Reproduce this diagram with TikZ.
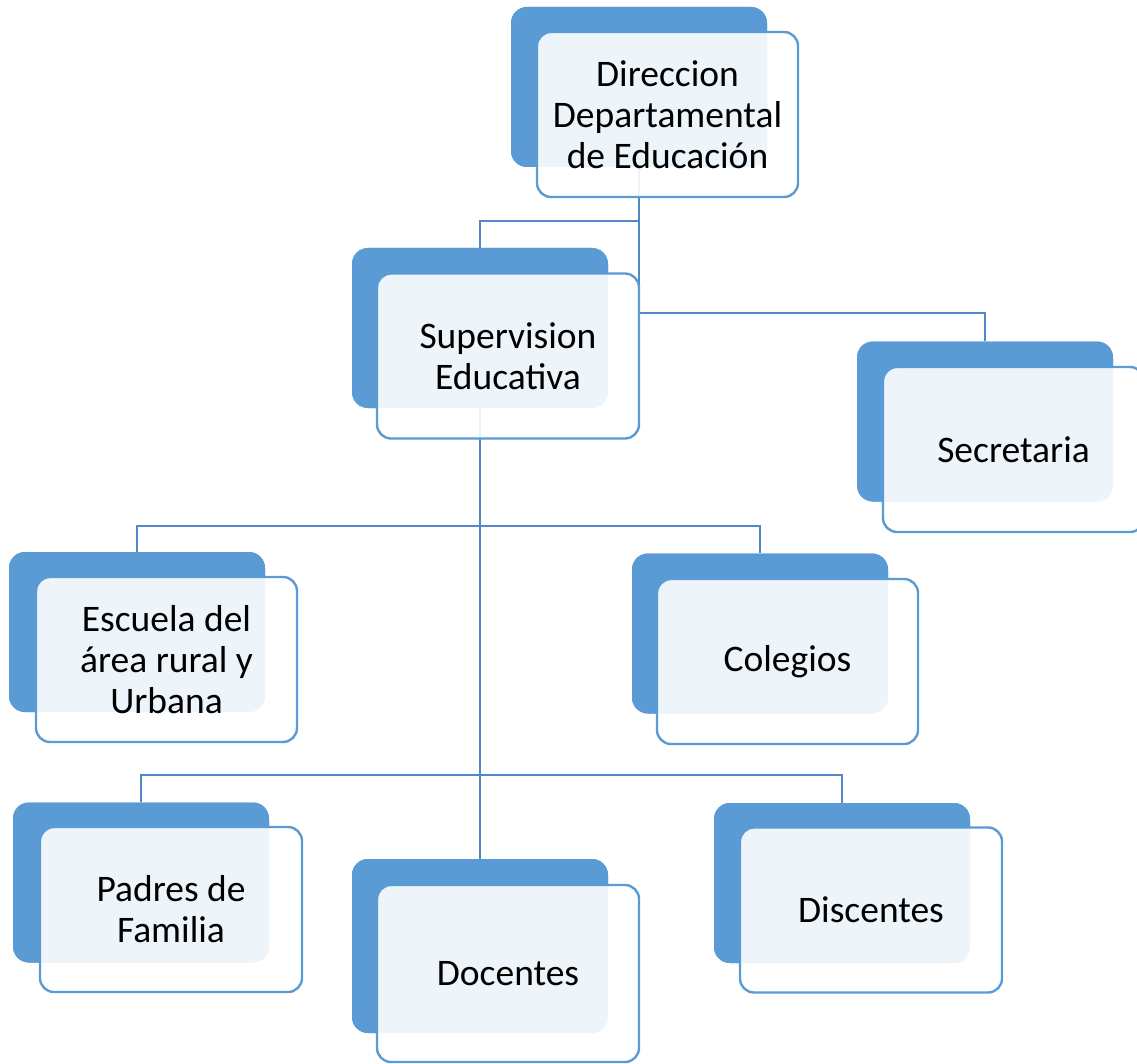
\documentclass[tikz,border=0pt]{standalone}
\usepackage{fontspec}
\setmainfont{Carlito}
\definecolor{boxblue}{HTML}{5B9BD5}
\definecolor{linkblue}{HTML}{5089C6}
\begin{document}
\begin{tikzpicture}[x=1pt,y=-1pt,
  backbox/.style={draw=none,fill=boxblue,rounded corners=16pt,minimum width=256pt,minimum height=160pt,inner sep=0pt},
  frontbox/.style={draw=boxblue,line width=2.4pt,fill=white,fill opacity=0.9,text opacity=1,rounded corners=14pt,minimum width=261pt,minimum height=165pt,align=center,inner sep=0pt,font=\fontsize{37.5}{41}\selectfont},
  link/.style={draw=linkblue,line width=2.5pt}]
\clip (0,0) rectangle (1137,1064);
% back boxes
\node[backbox] (dirB) at (639,87) {};
\node[backbox] (supB) at (480,328) {};
\node[backbox] (secB) at (985,421.5) {};
\node[backbox] (escB) at (137,632) {};
\node[backbox] (colB) at (760,633.5) {};
\node[backbox] (padB) at (141,882.5) {};
\node[backbox,minimum height=174pt] (docB) at (480,946) {};
\node[backbox] (disB) at (842,883) {};
% elbow levels
\coordinate (l1) at (0,221);
\coordinate (l2) at (0,313);
\coordinate (l3) at (0,526);
\coordinate (l4) at (0,775);
% connectors
\draw[link] (dirB.south) -- (dirB.south |- l1) -| (supB.north);
\draw[link] (dirB.south) -- (dirB.south |- l2) -| (secB.north);
\draw[link] (supB.south) -- (supB.south |- l3) -| (escB.north);
\draw[link] (supB.south |- l3) -| (colB.north);
\draw[link] (supB.south |- l3) -- (supB.south |- l4) -| (padB.north);
\draw[link] (supB.south |- l4) -| (disB.north);
\draw[link] (supB.south |- l4) -- (docB.north);
% redraw back boxes over connector ends
\node[backbox] at (dirB) {};
\node[backbox] at (supB) {};
\node[backbox] at (secB) {};
\node[backbox] at (escB) {};
\node[backbox] at (colB) {};
\node[backbox] at (padB) {};
\node[backbox,minimum height=174pt] at (docB) {};
\node[backbox] at (disB) {};
% front boxes
\node[frontbox] (dir) at (667.5,114.5) {Direccion\\Departamental\\de Educación};
\node[frontbox,minimum width=262pt] (sup) at (508,356) {Supervision\\Educativa};
\node[frontbox] (sec) at (1013.5,449.5) {Secretaria};
\node[frontbox] (esc) at (166.5,659.5) {Escuela del\\área rural y\\Urbana};
\node[frontbox] (col) at (787.5,661.5) {Colegios};
\node[frontbox,minimum width=262pt] (pad) at (171,909.5) {Padres de\\Familia};
\node[frontbox,minimum width=262pt,minimum height=177pt] (doc) at (508,973.5) {Docentes};
\node[frontbox,minimum width=262pt] (dis) at (871,910) {Discentes};
\end{tikzpicture}
\end{document}
